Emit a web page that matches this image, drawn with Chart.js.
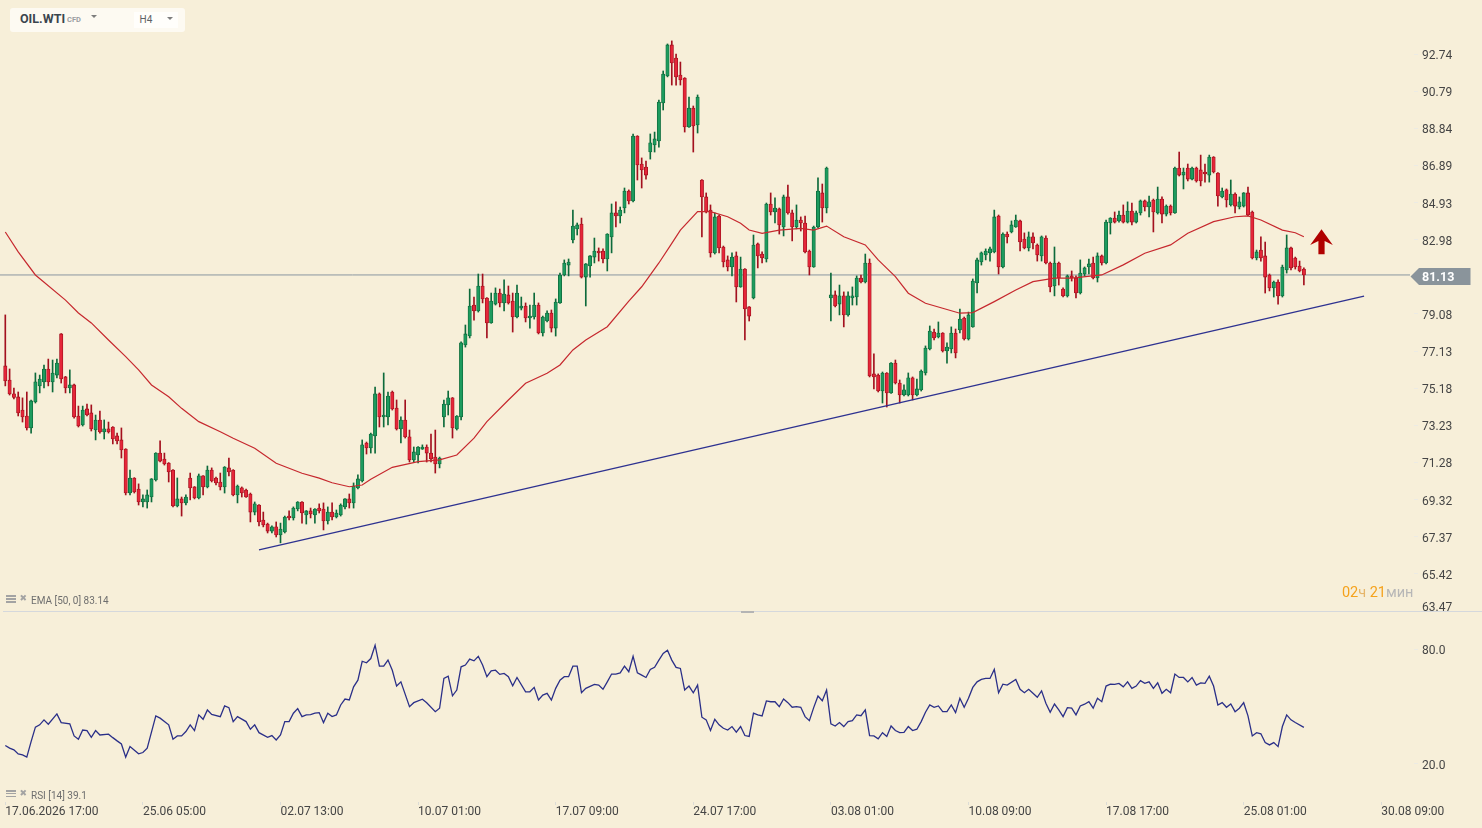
<!DOCTYPE html>
<html><head><meta charset="utf-8">
<script src="https://cdn.jsdelivr.net/npm/chart.js@4.4.1/dist/chart.umd.min.js"></script>
<style>
html,body{margin:0;padding:0;background:#f7efd9;width:1482px;height:828px;overflow:hidden;font-family:Roboto,"Noto Sans",sans-serif;}
#wrap{position:relative;width:1482px;height:828px;background:#f7efd9;}
canvas{position:absolute;left:0;}
#c1{top:0;width:1482px;height:611px;}
#c2{top:611px;width:1482px;height:217px;}
.ov{position:absolute;z-index:5;white-space:nowrap;}
.tb{left:10px;top:8px;width:175px;height:24px;background:#fdfaf2;border-radius:3px;}
.tf{left:134px;top:12px;width:44px;height:16px;background:#fffefb;}
.sym{left:20px;top:12.5px;font:bold 12.5px/12.5px Roboto;color:#3b454d;}
.cfd{left:67px;top:15.5px;font:bold 7.5px/7.5px Roboto;color:#9a9ea2;}
.tri{width:0;height:0;border-left:3.5px solid transparent;border-right:3.5px solid transparent;border-top:3.5px solid #7d7d7d;}
.h4{left:139.5px;top:15.3px;font:10px/10px Roboto;color:#5d6166;}
.lbl{font:10px/10px Roboto;color:#6e6e6e;}
.ico{width:10px;height:8px;}
.ico i{position:absolute;left:0;width:10px;height:1.6px;background:#a3a3a3;}
.x{font:9px/9px "DejaVu Sans";color:#a3a3a3;}
.timer{right:68.5px;top:586.3px;font:14.5px/14.5px Roboto;}
.sep{left:3px;top:611px;width:1479px;height:1px;background:#d5d8dc;}
.hdl{left:741px;top:611px;width:13px;height:2px;background:#b4b4b4;}
</style></head>
<body><div id="wrap">
<canvas id="c1" width="1482" height="611"></canvas>
<canvas id="c2" width="1482" height="217"></canvas>
<div class="ov tb"></div><div class="ov tf"></div>
<div class="ov sym">OIL.WTI</div><div class="ov cfd">CFD</div>
<div class="ov tri" style="left:90.5px;top:15px"></div>
<div class="ov h4">H4</div>
<div class="ov tri" style="left:166.5px;top:16.7px"></div>
<div class="ov ico" style="left:6px;top:595px"><i style="top:0;height:2.2px"></i><i style="top:3.3px"></i><i style="top:6px"></i></div>
<div class="ov x" style="left:19.5px;top:594px">✖</div>
<div class="ov lbl" id="emaLbl" style="left:31px;top:596.3px"></div>
<div class="ov ico" style="left:6px;top:789.5px"><i style="top:0;height:2.2px"></i><i style="top:3.3px"></i><i style="top:6px"></i></div>
<div class="ov x" style="left:19.5px;top:788.5px">✖</div>
<div class="ov lbl" id="rsiLbl" style="left:31px;top:791px"></div>
<div class="ov timer"><span style="color:#f5a21c">02</span><span style="color:#e6b56a">ч</span><span style="color:#f5a21c"> 21</span><span style="color:#b7b7b7">мин</span></div>
<div class="ov sep"></div><div class="ov hdl"></div>
</div>
<script>
const timeLabels = ["17.06.2026 17:00","25.06 05:00","02.07 13:00","10.07 01:00","17.07 09:00","24.07 17:00","03.08 01:00","10.08 09:00","17.08 17:00","25.08 01:00","30.08 09:00"];
const timeLabelIndex = [0,32,64,96,128,160,192,224,256,288,320];
const priceTicks = [63.47,65.42,67.37,69.32,71.28,73.23,75.18,77.13,79.08,81.03,82.98,84.93,86.89,88.84,90.79,92.74];
const rsiTicks = [20,80];

const opens = [76.35,75.61,74.88,74.72,74.03,73.72,73.09,74.46,75.30,75.51,
76.19,75.51,75.87,78.03,75.77,75.19,75.35,73.72,73.25,74.09,
73.88,72.98,73.51,72.88,73.04,73.14,72.67,72.46,71.98,69.67,
70.46,69.88,69.20,69.20,69.46,70.36,71.77,71.46,71.25,70.88,
68.99,69.36,69.15,70.46,69.99,69.41,70.57,69.99,70.88,70.46,
70.25,69.99,70.99,70.88,69.57,69.94,69.83,69.62,68.67,69.04,
68.25,68.04,67.67,67.89,67.47,67.62,68.46,68.36,68.83,69.20,
68.52,68.73,68.52,68.88,68.83,68.20,68.67,68.41,68.52,68.94,
69.36,69.15,69.94,70.30,72.30,72.04,72.67,74.88,73.67,73.67,
74.98,74.14,73.04,73.51,72.62,71.41,71.67,71.98,72.09,71.77,
71.56,71.20,73.67,74.30,74.67,73.04,73.67,77.45,77.92,79.55,
79.24,80.55,79.92,78.61,79.60,80.18,79.66,80.08,79.76,78.92,
79.39,79.50,78.87,78.92,79.55,78.08,78.71,79.13,78.34,79.66,
81.13,81.65,82.97,83.55,83.81,81.02,81.60,82.07,82.39,82.39,
81.97,83.13,84.39,84.23,84.65,85.54,85.02,88.43,86.96,86.80,
87.59,87.96,88.17,90.17,91.59,93.22,92.53,91.64,91.48,88.91,
89.90,89.01,86.12,85.23,84.54,82.29,84.23,82.60,81.92,81.55,
82.13,80.50,81.44,79.45,79.92,82.76,82.23,81.97,84.86,84.44,
84.60,83.65,85.23,84.39,83.65,84.02,83.86,82.39,81.55,83.65,
85.44,84.65,79.92,80.08,79.60,80.03,79.03,79.92,79.97,80.97,
80.76,81.76,75.93,75.87,75.03,75.98,74.93,76.50,75.45,74.82,
74.82,75.72,74.82,75.09,75.98,77.24,78.13,77.87,78.08,77.14,
77.24,78.08,78.24,78.87,77.77,78.40,80.71,81.81,82.18,82.29,
82.34,84.23,81.55,83.28,83.39,83.65,83.97,83.02,82.55,83.13,
82.70,82.13,83.07,81.76,80.55,81.76,80.39,80.03,81.08,80.97,
80.18,81.18,81.55,81.76,80.97,82.13,81.76,83.86,84.12,83.97,
84.28,83.91,84.49,83.91,84.39,85.02,84.70,85.07,84.39,85.12,
84.33,84.75,84.39,86.75,86.38,86.75,86.17,86.75,86.65,86.54,
86.38,87.33,86.49,85.23,85.60,84.81,85.38,84.70,84.75,85.44,
84.44,82.02,82.44,82.13,81.13,80.45,80.76,80.03,81.39,82.55,
82.02,81.60,81.44];
const highs = [79.03,76.19,75.19,74.98,74.67,74.98,74.56,75.98,75.87,76.40,
76.71,76.66,76.71,78.05,75.80,76.14,75.40,74.24,74.24,74.35,
74.30,73.77,73.98,73.51,73.40,73.16,72.82,73.09,72.00,70.88,
70.48,70.15,69.57,69.83,70.43,71.79,72.41,71.77,71.27,70.90,
70.46,69.46,69.57,70.72,70.01,70.67,70.59,71.09,70.99,70.51,
70.72,71.06,71.51,70.90,70.09,69.99,69.88,69.67,69.20,69.06,
68.67,68.09,67.94,68.15,68.09,68.46,68.73,68.94,69.22,69.22,
68.75,68.88,68.85,69.10,69.15,68.94,69.15,68.78,69.10,69.38,
69.62,70.20,70.62,72.46,72.35,72.82,75.24,74.93,75.98,74.98,
75.03,74.56,73.67,74.56,72.98,72.09,72.11,72.20,72.20,72.77,
72.98,71.56,74.56,75.03,74.69,73.74,77.61,78.50,80.39,79.97,
81.18,81.18,79.94,80.18,80.45,80.39,80.87,80.55,80.18,80.60,
79.97,79.66,79.55,80.18,79.66,78.97,79.24,79.29,79.87,81.23,
81.92,81.97,84.54,83.86,84.12,81.73,82.15,83.07,82.55,82.50,
83.30,84.86,84.97,84.70,85.70,85.60,88.54,88.45,87.28,87.12,
88.54,88.64,90.32,91.85,93.27,93.43,92.74,92.32,91.50,90.48,
90.01,90.59,86.14,85.44,84.81,84.39,84.28,82.65,82.13,82.29,
82.34,82.07,81.46,79.47,83.23,82.81,82.34,84.91,85.44,85.18,
84.65,85.33,85.86,84.54,84.81,84.18,84.23,82.44,83.70,86.23,
85.91,86.80,81.23,80.29,80.60,80.24,80.24,80.50,81.08,81.13,
82.23,81.97,76.98,75.93,76.03,76.00,76.52,76.66,75.61,75.35,
75.98,75.77,75.66,76.14,77.40,78.45,78.29,78.66,78.10,77.56,
78.40,78.29,79.34,78.92,79.18,80.92,82.02,82.34,82.50,82.60,
84.54,84.28,83.34,83.39,83.97,84.28,84.02,83.34,83.39,83.34,
82.76,83.18,83.18,81.81,82.60,81.81,80.45,81.13,81.34,81.08,
81.92,81.55,81.97,82.07,82.29,82.18,84.02,84.14,84.44,84.49,
84.81,84.97,84.91,84.49,85.07,85.07,85.28,85.12,85.75,85.23,
84.81,84.81,86.80,87.59,86.75,86.96,86.80,86.80,87.43,86.96,
87.43,87.35,86.51,85.70,85.65,86.12,85.44,85.23,85.46,85.75,
84.49,82.44,83.13,82.86,81.18,80.81,80.87,81.65,83.23,82.60,
82.07,81.86,81.50];
const lows = [75.30,74.82,74.61,73.72,73.40,72.98,72.82,74.40,74.93,75.19,
75.30,74.98,75.72,75.45,74.93,74.93,73.61,73.14,73.19,73.72,
72.93,72.46,72.82,72.51,72.82,72.25,72.25,71.51,69.57,69.57,
69.67,69.04,68.94,68.88,69.20,70.30,71.30,71.14,70.25,68.94,
68.94,68.46,69.04,69.31,69.36,69.36,69.57,69.94,70.25,70.09,
69.83,69.67,70.57,69.52,69.15,69.46,69.44,68.15,68.52,67.94,
67.89,67.57,67.57,67.36,67.05,67.57,68.25,68.25,68.73,68.09,
68.04,68.36,68.09,68.62,67.73,68.04,68.25,68.36,68.46,68.83,
68.88,68.88,69.88,70.25,71.72,71.77,71.77,73.14,73.14,73.25,
74.03,72.98,72.30,72.56,71.30,71.30,71.25,71.96,71.30,71.30,
70.72,70.99,73.14,73.77,72.56,72.98,73.51,77.34,77.82,78.76,
79.18,79.66,77.82,78.59,79.55,79.45,79.24,79.60,78.13,78.87,
79.29,78.66,78.34,78.81,78.03,77.92,78.66,78.13,77.92,79.64,
81.08,81.08,82.81,83.23,80.97,79.50,81.02,81.76,81.86,81.76,
81.34,82.29,83.65,83.86,84.39,84.86,84.97,86.12,85.70,86.17,
87.22,87.59,87.85,89.80,91.54,91.11,91.11,91.11,88.64,88.89,
87.59,88.59,83.13,84.39,82.07,82.23,82.29,81.55,81.34,81.08,
79.71,80.48,77.71,78.71,79.87,81.50,81.76,81.81,84.28,83.86,
83.28,83.18,84.33,82.92,83.55,83.44,82.29,81.13,81.53,83.60,
83.91,84.39,78.71,79.45,79.03,78.40,78.97,79.55,79.55,80.71,
80.71,75.77,75.14,74.98,74.40,74.19,74.91,75.40,74.40,74.77,
74.77,74.56,74.77,75.03,75.87,77.19,77.71,77.82,77.08,76.50,
77.03,76.77,78.08,77.71,77.71,78.38,80.18,81.65,81.92,81.86,
82.29,81.18,81.50,82.81,83.34,83.63,82.39,82.50,82.39,82.50,
81.86,81.86,81.71,80.24,80.03,80.60,79.97,79.97,80.81,79.92,
80.13,81.08,81.18,80.92,80.76,81.65,81.71,83.28,83.86,83.91,
83.86,83.86,83.76,83.86,84.28,84.49,84.18,83.39,84.33,83.86,
84.23,84.28,84.37,86.33,85.65,86.07,86.12,86.01,85.81,86.01,
86.01,86.49,84.75,85.18,84.70,84.75,84.39,84.60,84.70,84.23,
81.97,81.92,81.86,80.18,80.29,79.97,79.60,79.97,81.23,81.39,
81.44,81.29,80.60];
const closes = [75.56,74.88,74.69,73.88,73.67,73.09,74.51,75.51,75.66,76.19,
75.51,75.98,76.50,75.66,75.19,75.35,73.67,73.19,74.03,73.77,
73.04,73.51,72.88,73.04,72.88,72.51,72.41,71.93,69.67,70.46,
69.73,69.20,69.36,69.57,70.41,71.77,71.35,71.20,70.78,68.99,
69.36,69.15,69.46,69.94,69.41,70.57,69.99,70.88,70.30,70.20,
69.99,71.04,70.78,69.57,70.04,69.67,69.46,68.67,69.10,68.15,
67.99,67.67,67.89,67.47,67.78,68.41,68.36,68.88,69.20,68.62,
68.73,68.57,68.83,68.73,68.20,68.67,68.41,68.62,69.04,69.36,
69.15,70.04,70.41,72.20,72.04,72.77,74.88,73.67,73.77,74.77,
74.09,73.04,73.51,72.62,71.41,71.83,72.09,72.09,71.77,71.46,
71.20,71.51,74.35,74.67,73.09,73.72,77.56,78.03,79.50,79.24,
80.55,79.87,78.61,79.76,80.18,79.66,80.13,79.66,78.92,80.18,
79.50,78.87,78.97,79.55,78.08,78.92,79.13,78.34,79.71,81.13,
81.76,81.81,83.70,83.76,81.02,81.71,82.13,82.39,82.29,81.97,
83.28,84.39,84.23,84.54,85.54,85.02,88.43,86.91,86.65,86.38,
88.07,88.28,90.22,91.69,93.22,92.27,91.54,91.38,88.91,89.90,
88.96,90.48,85.23,84.44,82.29,84.18,82.55,81.81,81.55,82.07,
80.50,81.44,79.34,78.97,82.70,82.13,82.02,84.86,84.44,84.65,
83.76,85.23,84.39,83.65,84.02,83.86,82.34,81.55,83.65,85.54,
84.65,86.75,80.08,79.50,80.03,79.03,80.03,80.03,80.97,80.76,
81.76,75.82,75.77,75.03,75.98,74.93,76.50,75.45,74.82,75.09,
75.72,74.82,75.14,76.08,77.29,78.18,77.82,78.08,77.14,77.34,
78.08,77.03,78.81,77.77,79.03,80.81,81.92,82.29,82.39,82.50,
84.18,81.55,83.28,83.13,83.76,84.02,82.86,82.55,83.13,82.81,
82.18,83.13,81.76,80.50,81.76,80.97,80.03,81.08,80.97,80.18,
81.23,81.50,81.71,80.97,82.13,81.76,83.91,84.12,83.91,84.28,
83.91,84.49,83.91,84.39,85.02,84.70,84.97,84.44,85.12,84.33,
84.75,84.39,86.75,86.38,86.54,86.17,86.75,86.07,86.07,86.44,
87.33,86.54,85.28,85.54,85.07,85.38,84.75,84.97,85.44,84.28,
82.02,82.34,82.02,81.02,80.45,80.76,80.03,81.55,82.55,81.50,
81.55,81.34,81.13];

const emaIdx = [0,3,7,14,17,20,24,28,31,34,38,41,45,50,53,58,63,69,73,76,80,83,85,90,96,101,105,109,112,117,121,126,129,132,135,140,145,148,152,155,157,161,164,168,171,173,176,180,185,188,191,195,200,203,207,210,214,218,222,225,230,235,239,244,248,255,260,265,271,275,281,286,289,292,297,300,302];
const emaVal = [83.39,82.34,81.13,79.81,79.13,78.61,77.71,76.84,76.14,75.35,74.73,74.12,73.42,72.89,72.55,72.02,71.23,70.71,70.45,70.21,70.00,70.09,70.39,71.02,71.32,71.41,71.67,72.55,73.42,74.56,75.44,75.96,76.40,77.19,77.71,78.41,79.76,80.51,81.76,82.79,83.49,84.46,84.46,84.19,83.85,83.49,83.32,83.49,83.58,83.49,83.70,83.14,82.71,81.92,81.04,80.17,79.64,79.38,79.12,79.15,79.73,80.34,80.78,80.96,80.96,81.13,81.66,82.27,82.71,83.32,83.93,84.19,84.23,84.02,83.49,83.35,83.14];

const rsiIdx = [0,1,2,3,4,5,6,7,8,9,10,12,13,15,16,17,18,19,20,21,22,24,25,26,27,28,29,31,32,33,35,36,38,39,40,41,42,43,44,45,46,47,48,50,51,52,53,54,56,57,58,59,61,62,63,64,65,66,67,68,69,70,71,72,73,74,75,76,77,78,79,80,81,82,83,84,85,86,87,88,89,90,91,92,94,95,97,98,100,101,102,103,104,105,106,107,108,109,110,111,112,113,114,115,116,117,118,119,121,122,123,124,125,126,127,128,129,130,131,132,133,134,135,137,138,139,140,141,142,143,144,145,146,147,148,149,150,151,152,153,154,155,156,157,158,159,160,161,162,163,164,165,166,167,168,169,170,171,172,173,174,175,176,177,178,179,180,181,182,183,184,185,186,187,188,189,190,191,192,193,194,195,196,197,198,199,200,201,202,203,204,205,206,207,208,209,210,211,212,213,214,215,216,217,218,219,220,221,222,223,224,225,226,227,228,229,230,231,232,233,235,236,237,238,239,240,241,242,243,244,245,246,247,248,249,250,251,252,253,254,255,256,257,258,259,260,261,262,263,264,265,266,267,268,269,270,271,272,273,274,275,276,277,278,279,280,281,282,283,284,285,286,287,288,289,290,291,292,293,294,295,296,297,298,299,300,302];
const rsiVal = [29.6,28.2,27.3,25.2,24.7,23.5,31.6,39.2,40.4,43.0,40.7,46.1,41.6,40.9,34.6,32.9,37.7,37.4,33.9,37.4,35.1,35.5,33.7,32.0,30.4,23.5,29.0,25.2,25.9,28.2,45.1,43.9,40.4,32.9,34.6,34.6,36.9,40.4,37.4,45.6,43.3,48.2,45.9,44.7,50.3,49.4,42.1,44.7,42.1,38.1,40.4,36.3,33.9,34.8,32.5,35.1,42.1,42.1,46.5,48.9,44.7,45.6,45.7,46.5,46.8,41.6,46.5,44.7,45.6,50.8,53.9,53.4,60.3,63.8,73.7,72.9,75.1,82.1,71.1,71.1,74.3,69.0,60.7,62.9,49.9,52.0,53.8,52.0,47.3,49.1,64.7,65.9,55.6,58.6,70.8,71.7,74.8,73.9,76.3,71.7,65.6,68.7,69.0,66.8,67.3,65.6,60.9,65.2,57.7,57.7,60.0,53.4,56.0,56.9,53.4,59.5,63.8,65.6,65.6,71.1,71.1,57.2,59.5,61.6,61.2,59.0,62.9,67.0,67.0,67.6,71.1,68.2,76.3,67.6,66.4,65.2,69.4,70.5,74.3,77.8,79.5,74.3,70.5,69.9,58.6,60.7,57.2,61.2,44.4,43.0,37.4,43.3,40.4,38.6,37.7,39.5,36.6,39.5,34.8,34.3,46.5,45.6,45.1,52.9,52.5,52.5,49.9,53.9,52.0,49.6,49.9,49.6,44.7,42.6,49.4,55.5,53.0,58.6,40.9,39.8,41.6,39.5,42.1,42.6,45.6,45.2,48.2,34.8,34.6,33.1,36.3,34.3,39.8,37.4,36.3,36.5,39.5,37.4,38.1,42.1,47.0,50.8,49.6,50.3,47.3,47.3,50.8,46.8,54.3,49.6,54.3,60.0,62.9,64.2,64.7,64.7,69.4,57.2,61.7,61.2,64.2,59.0,57.2,59.0,56.9,54.8,58.2,51.7,47.0,51.3,48.2,44.7,49.4,49.1,45.6,50.3,51.2,52.5,49.1,54.3,52.5,60.7,61.7,61.6,62.1,60.3,62.9,59.5,60.7,63.5,62.1,62.9,59.5,62.4,56.9,59.0,57.2,67.0,65.2,65.2,62.9,65.2,61.2,62.4,62.1,65.9,60.7,50.8,52.0,49.6,51.3,47.3,49.1,52.0,45.1,34.6,36.3,35.7,31.1,29.9,31.1,29.0,39.5,45.6,43.0,41.6,39.1];

const trendIdx = [59,316];
const trendVal = [66.68,80.02];
const arrowIdx = 306.1, arrowPrice = 83.53;

const X_MIN = -1.233, X_MAX = 326.68;
const lastPrice = closes[closes.length-1];

document.getElementById('emaLbl').textContent = 'EMA [50, 0] ' + emaVal[emaVal.length-1].toFixed(2);
document.getElementById('rsiLbl').textContent = 'RSI [14] ' + rsiVal[rsiVal.length-1].toFixed(1);

Chart.defaults.font.family = 'Roboto';
Chart.defaults.font.size = 12;
Chart.defaults.color = '#454545';

const G_FILL = '#1d9b5e', G_LINE = '#0d6a3b', R_FILL = '#e52639', R_LINE = '#a3101e';
const isUp = opens.map((o,i) => closes[i] >= o);
const wickData = opens.map((o,i) => ({x:i, y:[lows[i], highs[i]]}));
const bodyData = opens.map((o,i) => ({x:i, y:[o, closes[i]]}));
const emaData = emaIdx.map((x,k) => ({x, y: emaVal[k]}));
const trendData = trendIdx.map((x,k) => ({x, y: trendVal[k]}));
const rsiData = rsiIdx.map((x,k) => ({x, y: rsiVal[k]}));

function fixY(scale){ scale.width = 72; scale.paddingTop = 0; scale.paddingBottom = 0; }

const overlay = {
  id: 'overlay',
  afterDraw(chart) {
    const {ctx, chartArea, scales:{x, y}} = chart;
    ctx.save();
    ctx.textAlign = 'left'; ctx.textBaseline = 'middle';
    ctx.font = '12px Roboto'; ctx.fillStyle = '#454545';
    const yb = y.getPixelForValue(priceTicks[0]);
    ctx.fillText(priceTicks[0].toFixed(2), chartArea.right + 12, Math.min(yb, chartArea.bottom - 3));
    const ty = Math.round(y.getPixelForValue(lastPrice)) + 1.5;
    const L = chartArea.right + 0.5;
    ctx.fillStyle = '#8a949b';
    ctx.beginPath();
    ctx.moveTo(L, ty); ctx.lineTo(L + 8.5, ty - 8.5); ctx.lineTo(L + 60, ty - 8.5);
    ctx.lineTo(L + 60, ty + 8.5); ctx.lineTo(L + 8.5, ty + 8.5); ctx.closePath(); ctx.fill();
    ctx.fillStyle = '#ffffff'; ctx.font = 'bold 12.5px Roboto';
    ctx.fillText(lastPrice.toFixed(2), chartArea.right + 12, ty + 1.5);
    const ax = x.getPixelForValue(arrowIdx), ay = y.getPixelForValue(arrowPrice);
    const pts = [[0,0],[11.3,15.8],[3.1,11.6],[3.1,25],[-3.1,25],[-3.1,11.6],[-11.3,15.8]];
    ctx.fillStyle = '#b00000';
    ctx.beginPath();
    pts.forEach((p,k) => k ? ctx.lineTo(ax+p[0], ay+p[1]) : ctx.moveTo(ax+p[0], ay+p[1]));
    ctx.closePath(); ctx.fill();
    ctx.restore();
  }
};

new Chart(document.getElementById('c1'), {
  type: 'bar',
  data: { datasets: [
    { type:'line', data:[{x:X_MIN,y:lastPrice},{x:X_MAX,y:lastPrice}], borderColor:'#8a96a0', borderWidth:1, pointRadius:0, order:5 },
    { type:'bar', data: wickData, backgroundColor: isUp.map(u => u ? G_LINE : R_LINE), barThickness:1, maxBarThickness:1, grouped:false, borderWidth:0, order:4 },
    { type:'bar', data: bodyData, backgroundColor: isUp.map(u => u ? G_FILL : R_FILL), borderColor: isUp.map(u => u ? G_LINE : R_LINE), borderWidth:0.8, borderSkipped:false, barThickness:3.4, maxBarThickness:3.4, minBarLength:1.5, grouped:false, order:3 },
    { type:'line', data: emaData, borderColor:'#c6282e', borderWidth:1.2, pointRadius:0, tension:0, order:2 },
    { type:'line', data: trendData, borderColor:'#2d3190', borderWidth:1.3, pointRadius:0, order:1 }
  ]},
  options: {
    responsive:false, animation:false, events:[],
    layout:{ padding:0, autoPadding:false },
    plugins:{ legend:{display:false}, tooltip:{enabled:false} },
    scales:{
      x:{ type:'linear', min:X_MIN, max:X_MAX, display:false, offset:false },
      y:{ type:'linear', position:'right', min:63.47, max:95.58,
          afterBuildTicks: s => { s.ticks = priceTicks.map(v => ({value:v})); },
          afterFit: fixY,
          ticks:{ autoSkip:false, padding:4, labelOffset:2, color:'#454545', font:{size:12},
                  callback: v => v === priceTicks[0] ? '' : v.toFixed(2) },
          grid:{ drawOnChartArea:false, drawTicks:true, tickLength:8, tickColor:'#ecebe4', tickBorderDash:[0,4,4] },
          border:{ display:false } }
    }
  },
  plugins:[overlay]
});

new Chart(document.getElementById('c2'), {
  type: 'line',
  data: { datasets: [
    { data: rsiData, borderColor:'#2a2f88', borderWidth:1.3, pointRadius:0, tension:0 }
  ]},
  options: {
    responsive:false, animation:false, events:[],
    layout:{ padding:0, autoPadding:false },
    plugins:{ legend:{display:false}, tooltip:{enabled:false} },
    scales:{
      x:{ type:'linear', min:X_MIN, max:X_MAX, offset:false,
          afterBuildTicks: s => { s.ticks = timeLabelIndex.map(v => ({value:v})); },
          afterFit: s => { s.height = 26; s.paddingLeft = 0; s.paddingRight = 0; },
          ticks:{ autoSkip:false, maxRotation:0, minRotation:0, align:'start', padding:0, color:'#454545', font:{size:12},
                  callback: v => timeLabels[timeLabelIndex.indexOf(v)] },
          grid:{ drawOnChartArea:false, drawTicks:true, tickLength:3, tickColor:'#dcdcd6' },
          border:{ display:false } },
      y:{ type:'linear', position:'right', min:0, max:100,
          afterBuildTicks: s => { s.ticks = rsiTicks.map(v => ({value:v})); },
          afterFit: fixY,
          ticks:{ autoSkip:false, padding:4, labelOffset:2, color:'#454545', font:{size:12}, callback: v => v.toFixed(1) },
          grid:{ drawOnChartArea:false, drawTicks:true, tickLength:8, tickColor:'#ecebe4', tickBorderDash:[0,4,4] },
          border:{ display:false } }
    }
  }
});
</script>
</body></html>
